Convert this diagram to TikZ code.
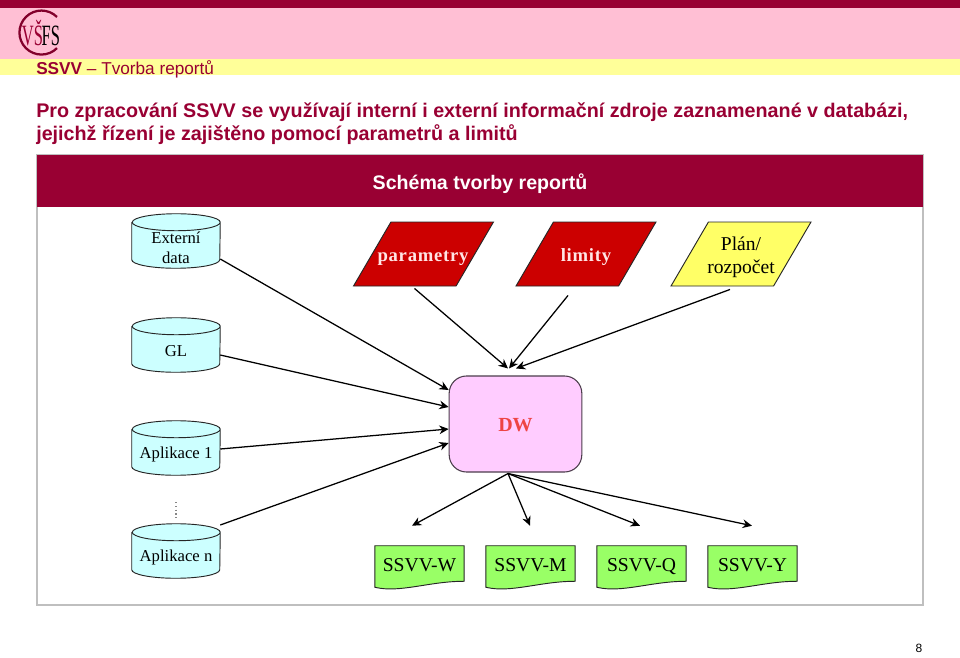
\documentclass[tikz,border=0pt]{standalone}
\usepackage{fontspec}
\setmainfont{Liberation Serif}
\setsansfont{Liberation Sans}
\usepackage{xcolor}
\usepackage{graphicx}
\usetikzlibrary{arrows.meta,shapes.geometric,calc}
\definecolor{wine}{HTML}{990033}
\definecolor{pinkbar}{HTML}{FFBFD4}
\definecolor{yellowbar}{HTML}{FFFF99}
\definecolor{framegrey}{HTML}{BFBFBF}
\definecolor{cyl}{HTML}{CCFFFF}
\definecolor{parared}{HTML}{CC0000}
\definecolor{planyellow}{HTML}{FFFF66}
\definecolor{dwpink}{HTML}{FFCCFF}
\definecolor{dwtext}{HTML}{EE4444}
\definecolor{docgreen}{HTML}{99FF66}
\tikzset{
  headline/.style={font=\sffamily\bfseries\fontsize{14.8}{17}\selectfont,text=wine,anchor=base west,inner sep=0pt},
  outline/.style={draw=black!85,line width=0.7pt},
  source/.style={minimum width=66pt,minimum height=40.5pt,inner sep=0pt},
  sourcetext/.style={inner sep=0pt,align=center,font=\fontsize{12.5}{15}\selectfont},
  param/.style={outline,trapezium,trapezium left angle=58,trapezium right angle=122,trapezium stretches=true,minimum width=105pt,minimum height=48pt,inner sep=0pt},
  paramtext/.style={inner sep=0pt,align=center,font=\fontsize{14.7}{17.3}\selectfont},
  paralabel/.style={inner sep=0pt,text=red!10!white,font=\bfseries\fontsize{14}{17}\selectfont\addfontfeature{LetterSpace=4}},
  report/.style={minimum width=66.5pt,minimum height=30.75pt,inner sep=0pt},
  reporttext/.style={anchor=base,inner sep=0pt,font=\fontsize{14.7}{18}\selectfont},
  flow/.style={-{Stealth[length=7pt,width=6.5pt]},line width=0.95pt,draw=black},
}
\newcommand{\sourcecyl}[4]{%
  \node[source] (#1) at (176,#2) {};
  \path[outline,fill=cyl] ([shift={(0,8.5)}]#1.north west) -- ([shift={(0,-8.5)}]#1.south west)
    arc[start angle=180,end angle=0,x radius=44,y radius=8.5]
    -- ([shift={(0,8.5)}]#1.north east)
    arc[start angle=0,end angle=-180,x radius=44,y radius=8.5]
    arc[start angle=180,end angle=0,x radius=44,y radius=8.5];
  \node[sourcetext] (#1text) at (176,#3) {#4};
}
\newcommand{\reportdoc}[3]{%
  \node[report] (#1) at (#2,566.5) {};
  \path[outline,fill=docgreen] (#1.north west) -- (#1.north east) -- ([shift={(0,-6)}]#1.south east)
    .. controls ([shift={(-35,-6)}]#1.south east) and ([shift={(25,6)}]#1.south west) .. (#1.south west) -- cycle;
  \node[reporttext] (#1text) at (#2,571) {#3};
}
\begin{document}
\begin{tikzpicture}[x=0.75pt,y=-0.75pt]
  \useasboundingbox (0,0) rectangle (960,657);
  % header
  \fill[wine] (0,0) rectangle (960,8);
  \fill[pinkbar] (0,8) rectangle (960,59);
  \fill[yellowbar] (0,59) rectangle (960,75);
  \draw[wine!85!black,line width=1.7pt] (57,17) arc[start angle=-45,end angle=-315,radius=22];
  \node[inner sep=0pt,font=\fontsize{13}{13}\selectfont] (logo) at (41,33) {\scalebox{0.95}[1.7]{\textcolor{wine}{VŠ}\kern-1pt\textcolor{black}{FS}}};
  \node[headline,font=\sffamily\fontsize{12.9}{14}\selectfont] (title) at (36,74) {\textbf{SSVV} – Tvorba reportů};
  \node[headline] (line1) at (36,117.5) {Pro zpracování SSVV se využívají interní i externí informační zdroje zaznamenané v databázi,};
  \node[headline] (line2) at (36,140.5) {jejichž řízení je zajištěno pomocí parametrů a limitů};
  % frame
  \draw[framegrey,line width=1.2pt,fill=white] (37,155) rectangle (923,605);
  \fill[wine] (37,155) rectangle (923,207);
  \node[font=\sffamily\bfseries\fontsize{14.7}{16}\selectfont,text=white,inner sep=0pt] (frametitle) at (480,183.5) {Schéma tvorby reportů};
  % sources
  \sourcecyl{ext}{241}{248}{Externí\\data}
  \sourcecyl{gl}{345}{351}{GL}
  \sourcecyl{app1}{448}{454.5}{Aplikace 1}
  \sourcecyl{appn}{551}{557.5}{Aplikace n}
  \draw[framegrey!70!black,dotted,line width=0.8pt] (app1.south) ++(0,27) coordinate (dota) -- ++(0,16) coordinate (dotb);
  % inputs
  \node[param,fill=parared] (par) at (423.5,254) {\phantom{x}};
  \node[paralabel] (partext) at (423,258) {parametry};
  \node[param,fill=parared] (lim) at (586,254) {\phantom{x}};
  \node[paralabel] (limtext) at (586,257) {limity};
  \node[param,fill=planyellow] (plan) at (741,254) {\phantom{x}};
  \node[paramtext] (plantext) at (741,257.5) {Plán/\\rozpočet};
  % warehouse
  \node[draw=black!70!dwpink,line width=0.8pt,fill=dwpink,rounded corners=13pt,minimum width=99.5pt,minimum height=72pt,inner sep=0pt] (dw) at (515.5,424) {};
  \node[inner sep=0pt,font=\bfseries\fontsize{15}{16}\selectfont,text=dwtext] (dwlabel) at (515.5,425) {DW};
  % reports
  \reportdoc{rw}{419.5}{SSVV-W}
  \reportdoc{rm}{530.5}{SSVV-M}
  \reportdoc{rq}{641.5}{SSVV-Q}
  \reportdoc{ry}{752.5}{SSVV-Y}
  % connectors
  \foreach \a/\ay/\ey in {ext/18/-34,gl/10/-17,app1/1/5,appn/-26/19}
    \draw[flow] ([shift={(0,\ay)}]\a.east) -- ([shift={(0,\ey)}]dw.west);
  \draw[flow] ([shift={(-9,2)}]par.south) -- ([shift={(-7.5,-7)}]dw.north);
  \draw[flow] ([shift={(-18,9)}]lim.south) -- ([shift={(-6.5,-7)}]dw.north);
  \draw[flow] ([shift={(-11,3)}]plan.south) -- ([shift={(0.5,-7)}]dw.north);
  \foreach \r/\dx in {rw/-7.5,rm/-0.5,rq/-1.5,ry/-0.5}
    \draw[flow] ([shift={(-7.5,1)}]dw.south) -- ([shift={(\dx,-20)}]\r.north);
  % page number
  \node[font=\sffamily\fontsize{9}{11}\selectfont,inner sep=0pt] (pageno) at (919,648) {8};
\end{tikzpicture}
\end{document}
